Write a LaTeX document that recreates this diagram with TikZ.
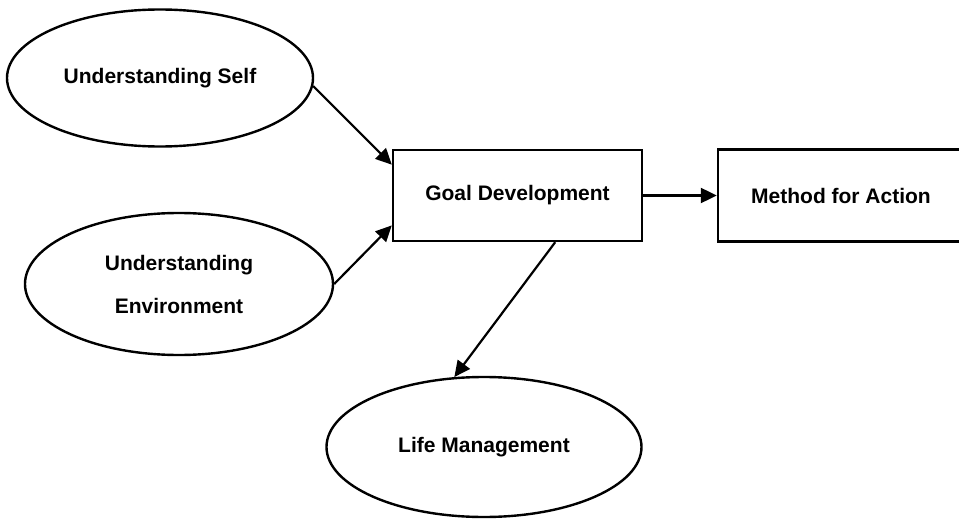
\documentclass[tikz,border=0pt]{standalone}
\usepackage{fontspec}
\setmainfont{Liberation Sans}
\usetikzlibrary{arrows.meta,shapes.geometric,calc}
\tikzset{
	base/.style={draw, line width=2.4pt, inner sep=0pt, align=center,
		font=\bfseries\fontsize{21}{43}\selectfont},
	oval/.style={base, ellipse},
	blk/.style={base, rectangle},
	arr/.style={line width=2.2pt, -{Triangle[length=16pt,width=15pt]}},
}
\begin{document}
\begin{tikzpicture}[x=1pt, y=1pt]
				\useasboundingbox (0,0) rectangle (959,-519);
				\node[oval, minimum width=306, minimum height=137] at (160,-78) (self) {Understanding Self};
				\node[oval, minimum width=308, minimum height=142] at (179,-284) (env) {Understanding\\Environment};
				\node[blk, minimum width=249, minimum height=91] at (517.5,-195.5) (goal) {Goal Development};
				\node[blk, minimum width=246, minimum height=92] at (841,-195.5) (method) {Method for Action};
				\node[oval, minimum width=315, minimum height=140] at (484,-447) (life) {Life Management};
				\draw[arr] (self.-3) -- ($(goal.north west)!0.17!(goal.south west)$);
				\draw[arr] (env.east) -- ($(goal.north west)!0.82!(goal.south west)$);
				\draw[arr] ($(goal.south west)!0.65!(goal.south east)$) -- (life.113);
				\draw[arr] (goal.east) -- (method.west);
			\end{tikzpicture}
\end{document}
